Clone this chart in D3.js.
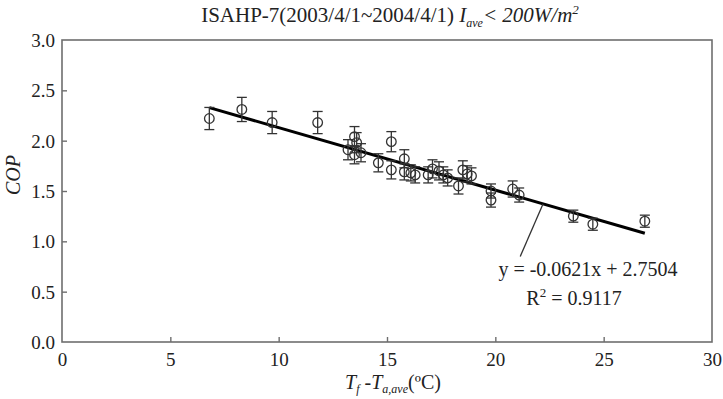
<!DOCTYPE html>
<html>
<head>
<meta charset="utf-8">
<script src="https://cdn.jsdelivr.net/npm/d3@7"></script>
<style>
  html, body { margin: 0; padding: 0; background: #fff; }
  svg { display: block; }
  text { font-family: "Liberation Serif", "Times New Roman", serif; fill: #222; }
</style>
</head>
<body>
<svg id="chart" width="723" height="399"></svg>
<script>
// ---- data ----
const xTicks = [0, 5, 10, 15, 20, 25, 30];
const yTicks = [0.0, 0.5, 1.0, 1.5, 2.0, 2.5, 3.0];
const tempDiff = [6.8, 8.3, 9.7, 11.8, 13.2, 13.5, 13.6, 13.5, 13.8, 14.6, 15.2, 15.2, 15.8, 15.8, 16.1, 16.3,
                  16.9, 17.1, 17.4, 17.6, 17.8, 18.3, 18.5, 18.7, 18.9, 19.8, 19.8, 20.8, 21.1, 23.6, 24.5, 26.9];
const cop      = [2.22, 2.31, 2.18, 2.18, 1.91, 2.04, 1.98, 1.86, 1.88, 1.78, 1.99, 1.71, 1.82, 1.69, 1.68, 1.66,
                  1.66, 1.72, 1.70, 1.66, 1.63, 1.55, 1.71, 1.67, 1.65, 1.50, 1.41, 1.52, 1.46, 1.25, 1.17, 1.20];
const copErr   = [0.11, 0.12, 0.11, 0.11, 0.10, 0.10, 0.10, 0.09, 0.09, 0.09, 0.10, 0.09, 0.09, 0.08, 0.08, 0.08,
                  0.08, 0.09, 0.09, 0.08, 0.08, 0.08, 0.09, 0.08, 0.08, 0.07, 0.07, 0.08, 0.07, 0.06, 0.06, 0.06];
const fitSlope = -0.0621;
const fitIntercept = 2.7504;
const fitRange = [6.8, 26.9];
const leaderX = [22.2, 21.15];
const leaderY = [1.37, 0.85];
const equationText = "y = -0.0621x + 2.7504";
const r2Value = "0.9117";

// ---- layout ----
const svg = d3.select("#chart");
const m = { left: 62, right: 712, top: 40, bottom: 342 };
const x = d3.scaleLinear().domain([0, 30]).range([m.left, m.right]);
const y = d3.scaleLinear().domain([0, 3]).range([m.bottom, m.top]);
const frameColor = "#6e6e6e";
const ink = "#333";
const fs = "19px";

// frame
svg.append("rect")
  .attr("x", m.left).attr("y", m.top)
  .attr("width", m.right - m.left).attr("height", m.bottom - m.top)
  .attr("fill", "none").attr("stroke", frameColor).attr("stroke-width", 1.6);

// axes (ticks inside)
const xAxis = svg.append("g").attr("transform", `translate(0,${m.bottom})`)
  .call(d3.axisBottom(x).tickValues(xTicks).tickSize(-5).tickPadding(11).tickFormat(d3.format("d")));
const yAxis = svg.append("g").attr("transform", `translate(${m.left},0)`)
  .call(d3.axisLeft(y).tickValues(yTicks).tickSize(-5).tickPadding(7).tickFormat(d3.format(".1f")));
[xAxis, yAxis].forEach(g => {
  g.select(".domain").remove();
  g.selectAll(".tick line").attr("stroke", frameColor).attr("stroke-width", 1.4);
  g.selectAll(".tick text").style("font-family", "Liberation Serif, serif").style("font-size", fs).attr("fill", "#222");
});
xAxis.selectAll(".tick line").filter(d => d === 0 || d === 30).remove();
yAxis.selectAll(".tick line").filter(d => d === 0 || d === 3).remove();
yAxis.selectAll(".tick text").attr("dy", "0.35em");

// fit line
svg.append("line")
  .attr("x1", x(fitRange[0])).attr("y1", y(fitSlope * fitRange[0] + fitIntercept))
  .attr("x2", x(fitRange[1])).attr("y2", y(fitSlope * fitRange[1] + fitIntercept))
  .attr("stroke", "#000").attr("stroke-width", 3);

// error bars + markers
const pts = tempDiff.map((t, i) => ({ t, c: cop[i], e: copErr[i] }));
const g = svg.append("g").attr("stroke", ink).attr("stroke-width", 1.3).attr("fill", "none");
const pg = g.selectAll("g.pt").data(pts).join("g").attr("class", "pt");
pg.append("line")
  .attr("x1", d => x(d.t)).attr("x2", d => x(d.t))
  .attr("y1", d => y(d.c + d.e)).attr("y2", d => y(d.c - d.e));
pg.append("line")
  .attr("x1", d => x(d.t) - 5).attr("x2", d => x(d.t) + 5)
  .attr("y1", d => y(d.c + d.e)).attr("y2", d => y(d.c + d.e));
pg.append("line")
  .attr("x1", d => x(d.t) - 5).attr("x2", d => x(d.t) + 5)
  .attr("y1", d => y(d.c - d.e)).attr("y2", d => y(d.c - d.e));
pg.append("circle")
  .attr("cx", d => x(d.t)).attr("cy", d => y(d.c)).attr("r", 4.8);

// leader line
svg.append("line")
  .attr("x1", x(leaderX[0])).attr("y1", y(leaderY[0]))
  .attr("x2", x(leaderX[1])).attr("y2", y(leaderY[1]))
  .attr("stroke", ink).attr("stroke-width", 1.3);

// equation
svg.append("text").attr("x", 588).attr("y", 276).attr("text-anchor", "middle")
  .style("font-size", "20px").text(equationText);
const r2 = svg.append("text").attr("x", 574).attr("y", 305).attr("text-anchor", "middle").style("font-size", "20px");
r2.append("tspan").text("R");
r2.append("tspan").attr("dy", -8).style("font-size", "13px").text("2");
r2.append("tspan").attr("dy", 8).text(" = " + r2Value);

// title
const title = svg.append("text").attr("x", 390).attr("y", 22).attr("text-anchor", "middle").style("font-size", "21px");
title.append("tspan").text("ISAHP-7(2003/4/1~2004/4/1) ");
title.append("tspan").style("font-style", "italic").text("I");
title.append("tspan").attr("dy", 5).style("font-style", "italic").style("font-size", "12px").text("ave");
title.append("tspan").attr("dy", -5).style("font-style", "italic").text("< 200W/m");
title.append("tspan").attr("dy", -8).style("font-style", "italic").style("font-size", "13px").text("2");

// y label
svg.append("text")
  .attr("transform", `translate(20,${(m.top + m.bottom) / 2 - 16}) rotate(-90)`)
  .attr("text-anchor", "middle")
  .style("font-size", "20px").style("font-style", "italic").text("COP");

// x label
const xl = svg.append("text").attr("x", 393).attr("y", 389).attr("text-anchor", "middle").style("font-size", "20px");
xl.append("tspan").style("font-style", "italic").text("T");
xl.append("tspan").attr("dy", 4).style("font-style", "italic").style("font-size", "12px").text("f");
xl.append("tspan").attr("dy", -4).text(" -");
xl.append("tspan").style("font-style", "italic").text("T");
xl.append("tspan").attr("dy", 4).style("font-style", "italic").style("font-size", "12px").text("a,ave");
xl.append("tspan").attr("dy", -4).text("(ºC)");
</script>
</body>
</html>
